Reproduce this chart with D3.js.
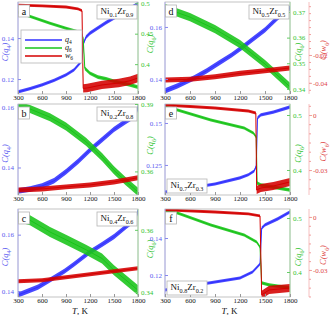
<!DOCTYPE html>
<html>
<head>
<meta charset="utf-8">
<script src="https://cdn.jsdelivr.net/npm/d3@7"></script>
<style>
  body { margin: 0; background: #fff; }
  svg text { font-family: "Liberation Serif", "DejaVu Serif", serif; }
</style>
</head>
<body>
<div id="chart"></div>
<script>
const temps = [300, 600, 900, 1200, 1500, 1800];
const letters = ["a", "b", "c", "d", "e", "f"];
const compositions = [["0.1", "0.9"], ["0.2", "0.8"], ["0.4", "0.6"], ["0.5", "0.5"], ["0.7", "0.3"], ["0.8", "0.2"]];
const legendNames = [["q", "4"], ["q", "6"], ["w", "6"]];

// points are [T, mean value, half-spread of the fluctuations]
const aQ4 = [[300,0.1137,0.0008],[450,0.1153,0.0008],[600,0.1171,0.0008],[750,0.1193,0.0008],[900,0.1220,0.0008],[1000,0.1245,0.0008],[1080,0.1280,0.0008],[1100,0.1295,0.0008],[1120,0.1375,0.0008],[1150,0.1405,0.0009],[1200,0.1424,0.0009],[1300,0.1450,0.0009],[1400,0.1475,0.0009],[1500,0.1498,0.0009],[1600,0.1522,0.0009],[1700,0.1545,0.0009],[1800,0.1568,0.0009]];
const aQ6 = [[300,0.4852,0.0025],[500,0.4760,0.0025],[700,0.4672,0.0025],[900,0.4590,0.0025],[1050,0.4530,0.0025],[1100,0.4490,0.0025],[1115,0.4420,0.0025],[1135,0.3930,0.003],[1200,0.3850,0.003],[1300,0.3787,0.003],[1400,0.3760,0.003],[1500,0.3720,0.003],[1600,0.3690,0.003],[1700,0.3660,0.003],[1800,0.3623,0.003]];
const aW6 = [[300,0.0158,0.001],[600,0.0152,0.001],[900,0.0144,0.001],[1050,0.0130,0.001],[1100,0.0118,0.001],[1115,-0.0440,0.003],[1165,-0.0437,0.003],[1350,-0.0415,0.003],[1560,-0.0401,0.003],[1700,-0.0385,0.003],[1800,-0.0365,0.003]];

const bQ4 = [[300,0.1322,0.0009],[450,0.1329,0.0009],[600,0.1339,0.0009],[750,0.1356,0.0009],[900,0.1386,0.0009],[1050,0.1420,0.0009],[1200,0.1458,0.0009],[1350,0.1492,0.0009],[1500,0.1526,0.0009],[1650,0.1553,0.0009],[1770,0.1573,0.0009],[1800,0.1600,0.0009]];
const bQ6 = [[300,0.3891,0.0018],[450,0.3878,0.0018],[700,0.3841,0.0018],[900,0.3800,0.0018],[1150,0.3732,0.0018],[1350,0.3664,0.0018],[1500,0.3605,0.0018],[1650,0.3555,0.0018],[1800,0.3509,0.0018]];
const bW6 = [[300,-0.0443,0.0018],[600,-0.0436,0.0018],[900,-0.0421,0.0018],[1200,-0.0407,0.0018],[1500,-0.0385,0.0018],[1800,-0.0355,0.0018]];

const cQ4 = [[300,0.1386,0.0009],[550,0.1414,0.0009],[700,0.1439,0.0009],[880,0.1470,0.0009],[1000,0.1495,0.0009],[1190,0.1537,0.0009],[1350,0.1565,0.0009],[1500,0.1593,0.0009],[1650,0.1628,0.0009],[1770,0.1655,0.0009],[1800,0.1685,0.0009]];
const cQ6 = [[300,0.3641,0.0016],[450,0.3631,0.0016],[700,0.3593,0.0016],[900,0.3568,0.0016],[1150,0.3536,0.0016],[1350,0.3508,0.0016],[1500,0.3470,0.0016],[1650,0.3438,0.0016],[1800,0.3406,0.0016]];
const cW6 = [[300,-0.0361,0.0015],[600,-0.0354,0.0015],[900,-0.0332,0.0015],[1200,-0.0309,0.0015],[1500,-0.0287,0.0015],[1800,-0.0265,0.0015]];

const dQ4 = [[300,0.1354,0.001],[450,0.1373,0.001],[650,0.1404,0.001],[800,0.1431,0.001],[950,0.1462,0.001],[1100,0.1492,0.001],[1250,0.1527,0.001],[1500,0.1589,0.001],[1650,0.1635,0.001],[1800,0.1673,0.001]];
const dQ6 = [[300,0.3715,0.0016],[600,0.3680,0.0016],[900,0.3633,0.0016],[1200,0.3575,0.0016],[1500,0.3497,0.0016],[1800,0.3408,0.0016]];
const dW6 = [[300,-0.0379,0.0018],[600,-0.0375,0.0018],[900,-0.0357,0.0018],[1200,-0.0332,0.0018],[1500,-0.0314,0.0018],[1800,-0.0293,0.0018]];

const eQ4 = [[300,0.1089,0.0009],[600,0.1113,0.0009],[900,0.1137,0.0009],[1200,0.1173,0.0009],[1300,0.1191,0.0009],[1370,0.1214,0.0009],[1395,0.1244,0.0009],[1410,0.1530,0.001],[1450,0.1548,0.001],[1600,0.1565,0.001],[1800,0.1595,0.001]];
const eQ6 = [[300,0.5147,0.0027],[450,0.5092,0.0027],[850,0.4910,0.0027],[1250,0.4764,0.0027],[1360,0.4673,0.0027],[1395,0.4601,0.0027],[1405,0.3763,0.003],[1450,0.3727,0.003],[1800,0.3636,0.003]];
const eW6 = [[300,0.0055,0.0008],[900,0.0038,0.0008],[1300,0.0022,0.0008],[1390,0.0011,0.0008],[1400,-0.0409,0.0022],[1450,-0.0398,0.0022],[1600,-0.0387,0.0022],[1800,-0.0365,0.0022]];

const fQ4 = [[300,0.1119,0.0008],[600,0.1140,0.0008],[900,0.1162,0.0008],[1200,0.1184,0.0008],[1350,0.1216,0.0008],[1440,0.1260,0.0008],[1460,0.1454,0.0009],[1500,0.1471,0.0009],[1650,0.1503,0.0009],[1800,0.1541,0.0009]];
const fQ6 = [[300,0.5129,0.0028],[450,0.5092,0.0028],[850,0.4870,0.0028],[1250,0.4685,0.0028],[1400,0.4555,0.0028],[1440,0.4463,0.0028],[1460,0.3797,0.003],[1550,0.3760,0.003],[1800,0.3704,0.003]];
const fW6 = [[300,0.0040,0.0008],[900,0.0028,0.0008],[1300,0.0017,0.0008],[1440,0.0006,0.0008],[1460,-0.0441,0.0023],[1550,-0.0413,0.0023],[1800,-0.0402,0.0023]];

// axis ranges and tick labels
const q4Domains = [[0.1127,0.1576],[0.1309,0.161],[0.1379,0.1691],[0.1342,0.1696],[0.1071,0.1613],[0.1081,0.1557]];
const q6Domains = [[0.351,0.502],[0.3495,0.39],[0.3384,0.3667],[0.338,0.3739],[0.3545,0.52],[0.3537,0.5167]];
const w6Domains = [[-0.048,0.018],[-0.048,0.018],[-0.048,0.018],[-0.048,0.018],[-0.0436,0.006],[-0.0453,0.0045]];
const q4Ticks = [[0.12,0.14],[0.14,0.16],[0.14,0.16],[0.14,0.16],[0.125,0.15],[0.12,0.14]];
const q6Ticks = [[0.4,0.45,0.5],[0.36,0.39],[0.34,0.36],[0.34,0.35,0.36,0.37],[0.4,0.5],[0.4,0.5]];
const w6Ticks = [null, null, null, [-0.04,-0.02], [-0.03,0], [-0.03,0]];

const q4Series = [aQ4, bQ4, cQ4, dQ4, eQ4, fQ4];
const q6Series = [aQ6, bQ6, cQ6, dQ6, eQ6, fQ6];
const w6Series = [aW6, bW6, cW6, dW6, eW6, fW6];

const blue = "#3030ff", green = "#18c418", red = "#d40000";
const blueText = "#5a5af0", greenText = "#33c433", redText = "#e04848";

const svg = d3.select("#chart").append("svg").attr("width", 332).attr("height", 315);

const cols = [[18, 138], [165, 290]];
const rows = [[2, 94], [104, 195], [209, 297]];

// parts: [string, "i" italic | "n" normal | "s" subscript]
function richText(text, parts, size) {
  const shift = size * 0.3;
  let down = false;
  parts.forEach(([str, kind]) => {
    const t = text.append("tspan").text(str);
    if (kind === "s") {
      t.style("font-size", size * 0.68 + "px");
      if (!down) t.attr("dy", shift);
      down = true;
    } else {
      t.style("font-style", kind === "i" ? "italic" : "normal");
      if (down) t.attr("dy", -shift);
      down = false;
    }
  });
}

function axisTitle(g, x, y, color, base, sub) {
  const t = g.append("text")
    .attr("transform", `translate(${x},${y})rotate(-90)`)
    .attr("text-anchor", "middle")
    .style("font-size", "8.5px")
    .attr("fill", color);
  richText(t, [["C(", "i"], [base, "i"], [sub, "s"], [")", "i"]], 8.5);
}

function styleAxis(sel, color, lineColor) {
  sel.select(".domain").remove();
  sel.selectAll("text").style("font-family", '"Liberation Serif", serif').style("font-size", "7px").attr("fill", color);
  sel.selectAll("line").attr("stroke", lineColor);
}

letters.forEach((letter, i) => {
  const left = i < 3;
  const [x0, x1] = cols[left ? 0 : 1];
  const [y0, y1] = rows[i % 3];
  const g = svg.append("g");

  const x = d3.scaleLinear().domain([300, 1800]).range([x0, x1]);
  const yQ4 = d3.scaleLinear().domain(q4Domains[i]).range([y1, y0]);
  const yQ6 = d3.scaleLinear().domain(q6Domains[i]).range([y1, y0]);
  const yW6 = d3.scaleLinear().domain(w6Domains[i]).range([y1, y0]);

  g.append("clipPath").attr("id", "clip" + i)
    .append("rect").attr("x", x0).attr("y", y0).attr("width", x1 - x0).attr("height", y1 - y0);

  // fluctuating curves, drawn as bands round the mean line
  const plot = g.append("g").attr("clip-path", `url(#clip${i})`);
  [[q4Series[i], yQ4, blue], [q6Series[i], yQ6, green], [w6Series[i], yW6, red]].forEach(([s, y, c]) => {
    const band = d3.area()
      .x((d) => x(d[0]))
      .y0((d) => y(d[1] - d[2]))
      .y1((d) => y(d[1] + d[2]));
    const line = d3.line().x((d) => x(d[0])).y((d) => y(d[1]));
    plot.append("path").attr("d", band(s)).attr("fill", c).attr("fill-opacity", 0.88);
    plot.append("path").attr("d", line(s)).attr("fill", "none").attr("stroke", c).attr("stroke-width", 1);
  });

  // frame
  g.append("rect")
    .attr("x", x0).attr("y", y0).attr("width", x1 - x0).attr("height", y1 - y0)
    .attr("fill", "none").attr("stroke", "#b4b4b4").attr("stroke-width", 0.8);
  g.append("line").attr("x1", x0).attr("x2", x0).attr("y1", y0).attr("y2", y1)
    .attr("stroke", "#a8a8f4").attr("stroke-width", 0.8);
  g.append("line").attr("x1", x1).attr("x2", x1).attr("y1", y0).attr("y2", y1)
    .attr("stroke", "#9ad89a").attr("stroke-width", 0.8);

  // x axis
  const xAxis = g.append("g").attr("transform", `translate(0,${y1})`)
    .call(d3.axisBottom(x).tickValues(temps).tickSize(-3).tickSizeOuter(0).tickPadding(1.5).tickFormat((d) => String(d)));
  styleAxis(xAxis, "#111", "#999");

  // C(q4) axis
  const q4Axis = g.append("g").attr("transform", `translate(${x0},0)`)
    .call(d3.axisLeft(yQ4).tickValues(q4Ticks[i]).tickSize(-3).tickSizeOuter(0).tickPadding(left ? 4 : 3).tickFormat((d) => String(d)));
  styleAxis(q4Axis, blueText, "#8888ee");

  // C(q6) axis
  const q6Axis = g.append("g").attr("transform", `translate(${x1},0)`)
    .call(d3.axisRight(yQ6).tickValues(q6Ticks[i]).tickSize(-3).tickSizeOuter(0).tickPadding(3).tickFormat((d) => String(d)));
  styleAxis(q6Axis, greenText, "#66cc66");

  if (left) {
    axisTitle(g, 8, (y0 + y1) / 2 + 4, blueText, "q", "4");
    axisTitle(g, 153, (y0 + y1) / 2 - 4, greenText, "q", "6");
  } else {
    axisTitle(g, 301, (y0 + y1) / 2 + 4, greenText, "q", "6");

    // C(w6) axis
    const rx = 309;
    g.append("line").attr("x1", rx).attr("x2", rx).attr("y1", y0).attr("y2", y1)
      .attr("stroke", "#f4b0b0").attr("stroke-width", 0.8);
    const minor = g.append("g").attr("transform", `translate(${rx},0)`)
      .call(d3.axisRight(yW6).ticks(12).tickSize(2).tickSizeOuter(0).tickFormat(""));
    styleAxis(minor, redText, "#f0a0a0");
    const w6Axis = g.append("g").attr("transform", `translate(${rx},0)`)
      .call(d3.axisRight(yW6).tickValues(w6Ticks[i]).tickSize(3).tickSizeOuter(0).tickPadding(1).tickFormat((d) => String(d)));
    styleAxis(w6Axis, redText, "#f0a0a0");
    axisTitle(g, 326, (y0 + y1) / 2 + 2, redText, "w", "6");
  }

  // panel letter
  g.append("rect").attr("x", x0 + 0.5).attr("y", y0 + 3).attr("width", 11).attr("height", 12)
    .attr("fill", "#fff").attr("stroke", "#b4b4b4").attr("stroke-width", 0.8);
  g.append("text").attr("x", x0 + 6).attr("y", y0 + 12.5).attr("text-anchor", "middle")
    .style("font-size", "10px").attr("fill", "#111").text(letter);

  // composition box
  const bw = 40, bh = 14;
  const bx = i < 4 ? x1 - bw - 1 : x0 + 2;
  const by = i < 4 ? y0 + 3 : y1 - bh - 2;
  g.append("rect").attr("x", bx).attr("y", by).attr("width", bw).attr("height", bh)
    .attr("fill", "#fff").attr("stroke", "#b4b4b4").attr("stroke-width", 0.8);
  const comp = g.append("text").attr("x", bx + bw / 2).attr("y", by + 9).attr("text-anchor", "middle")
    .style("font-size", "9px").attr("fill", "#111");
  richText(comp, [["Ni", "n"], [compositions[i][0], "s"], ["Zr", "n"], [compositions[i][1], "s"]], 9);

  // x title under the bottom row
  if (i % 3 === 2) {
    const t = g.append("text").attr("x", (x0 + x1) / 2 + 2).attr("y", 314).attr("text-anchor", "middle")
      .style("font-size", "9px").attr("fill", "#111");
    richText(t, [["T", "i"], [", K", "n"]], 9);
  }

  // legend in panel a
  if (i === 0) {
    const lg = g.append("g");
    lg.append("rect").attr("x", 21).attr("y", 30).attr("width", 61).attr("height", 33)
      .attr("fill", "#fff").attr("stroke", "#b4b4b4").attr("stroke-width", 0.8);
    [blue, green, red].forEach((c, k) => {
      const ly = 40 + k * 8;
      lg.append("line").attr("x1", 25).attr("x2", 62).attr("y1", ly).attr("y2", ly)
        .attr("stroke", c).attr("stroke-width", 1.6);
      const t = lg.append("text").attr("x", 65).attr("y", ly + 2)
        .style("font-size", "8px").attr("fill", "#111");
      richText(t, [[legendNames[k][0], "i"], [legendNames[k][1], "s"]], 8);
    });
  }
});
</script>
</body>
</html>
